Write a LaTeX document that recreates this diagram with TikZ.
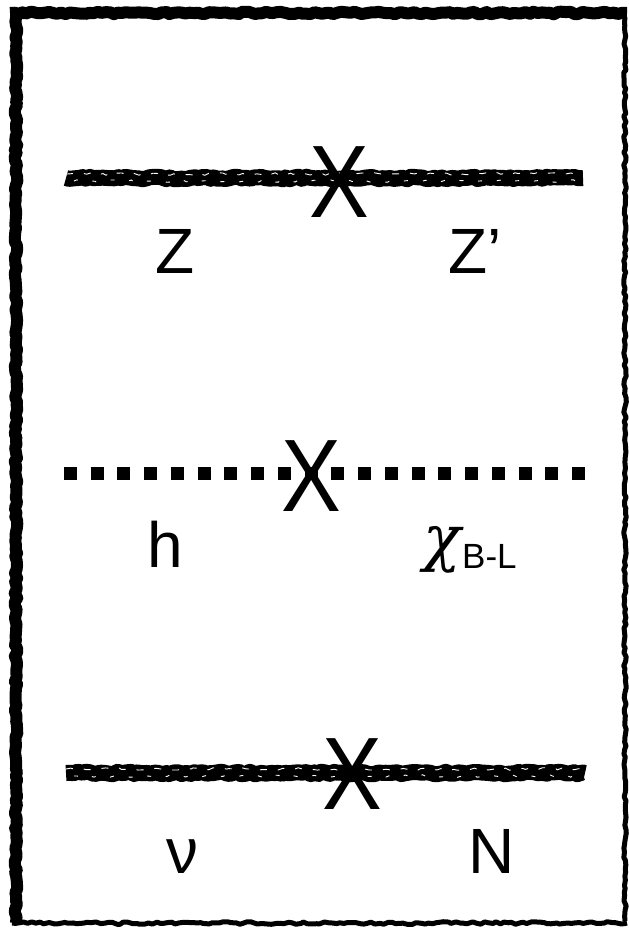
\documentclass[tikz,border=0pt]{standalone}
\usepackage{fontspec}
\setmainfont{Liberation Sans}
\newfontfamily\chifont{DejaVu Serif}
\usetikzlibrary{decorations.pathmorphing}
\pgfmathsetseed{7}
\tikzset{
  rough/.style={decorate, decoration={random steps, segment length=4pt, amplitude=1.3pt}},
  thickline/.style={rough, line width=16pt, black, line join=round},
  speckle/.style={rough, white, line width=0.9pt, dash pattern=on 7pt off 11pt},
  dotline/.style={line width=13pt, black, dash pattern=on 13pt off 13.74pt},
  crossmark/.style={inner sep=0pt, font=\fontsize{103}{110}\selectfont},
  lbl/.style={inner sep=0pt, anchor=base, font=\fontsize{64}{70}\selectfont},
  sublbl/.style={inner sep=0pt, anchor=base west, font=\fontsize{35}{40}\selectfont},
  chilbl/.style={inner sep=0pt, anchor=base, font=\chifont\itshape\fontsize{62}{70}\selectfont},
  framethick/.style={rough, black, line width=12pt, line join=round},
  framethin/.style={rough, black, line width=5pt, line join=round},
}
\begin{document}
\begin{tikzpicture}[x=1pt,y=-1pt]
\useasboundingbox[fill=white] (0,0) rectangle (629,929);
% frame corners
\coordinate (tl) at (16,13);
\coordinate (tr) at (625,13);
\coordinate (bl) at (16,923);
\coordinate (br) at (625,923);
\draw[framethick] (tl) -- (bl);
\draw[framethick] ([xshift=-6pt]tl) -- ([xshift=2pt]tr);
\draw[framethin] ([yshift=-4pt]tr) -- ([yshift=2pt]br);
\draw[framethin] ([xshift=-4pt]bl) -- ([xshift=2pt]br);
% line end points
\coordinate (za) at (66,178);
\coordinate (zb) at (583,178);
\coordinate (ha) at (64,473);
\coordinate (hb) at (585,473);
\coordinate (na) at (66,773);
\coordinate (nb) at (585,773);
% top Z line
\draw[thickline] (za) -- (zb);
\draw[speckle] ([yshift=4pt]za) -- ([yshift=4pt]zb);
\draw[speckle, dash pattern=on 4pt off 15pt] ([yshift=-3pt,xshift=8pt]za) -- ([yshift=-3pt]zb);
% dotted scalar line
\draw[dotline] (ha) -- (hb);
% bottom neutrino line
\draw[thickline] (na) -- (nb);
\draw[speckle] ([yshift=4pt]na) -- ([yshift=4pt]nb);
\draw[speckle, dash pattern=on 4pt off 15pt] ([yshift=-3pt,xshift=8pt]na) -- ([yshift=-3pt]nb);
% crosses
\node[crossmark] (x1) at (339,182) {\scalebox{0.87}[1]{X}};
\node[crossmark] (x2) at (311,476) {\scalebox{0.87}[1]{X}};
\node[crossmark] (x3) at (352,774) {\scalebox{0.87}[1]{X}};
% labels
\node[lbl] (lz) at (175,273) {Z};
\node[lbl, anchor=base west] (lzp) at (448,273) {Z’};
\node[lbl] (lh) at (165,567) {h};
\node[chilbl] (lchi) at (442,559) {χ};
\node[sublbl] (lsub) at (462,568) {B-L};
\node[lbl] (lnu) at (182,873) {ν};
\node[lbl] (lN) at (492,873) {N};
\end{tikzpicture}
\end{document}
